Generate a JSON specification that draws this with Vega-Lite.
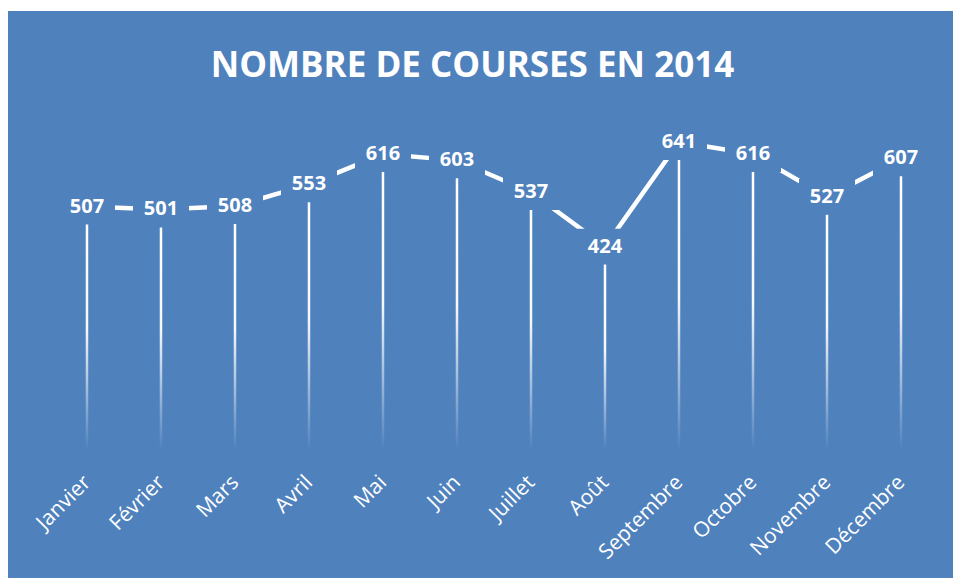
{
  "$schema": "https://vega.github.io/schema/vega-lite/v6.json",
  "width": 945,
  "height": 567,
  "padding": {"left": 8, "top": 11, "right": 0, "bottom": 0},
  "background": "white",
  "title": {
    "text": "NOMBRE DE COURSES EN 2014",
    "color": "white",
    "font": "Open Sans",
    "fontSize": 35,
    "fontWeight": "bold",
    "orient": "top",
    "anchor": "middle",
    "baseline": "alphabetic",
    "offset": -101,
    "dx": -8
  },
  "config": {
    "view": {"fill": "#4F81BD", "stroke": null}
  },
  "data": {
    "values": [
      {"mois": "Janvier", "courses": 507},
      {"mois": "Février", "courses": 501},
      {"mois": "Mars", "courses": 508},
      {"mois": "Avril", "courses": 553},
      {"mois": "Mai", "courses": 616},
      {"mois": "Juin", "courses": 603},
      {"mois": "Juillet", "courses": 537},
      {"mois": "Août", "courses": 424},
      {"mois": "Septembre", "courses": 641},
      {"mois": "Octobre", "courses": 616},
      {"mois": "Novembre", "courses": 527},
      {"mois": "Décembre", "courses": 607}
    ]
  },
  "encoding": {
    "x": {
      "field": "mois",
      "type": "nominal",
      "sort": null,
      "scale": {"type": "point", "padding": 0.885, "align": 0.603},
      "axis": {
        "title": null,
        "domain": false,
        "ticks": false,
        "grid": false,
        "labelColor": "white",
        "labelFont": "Open Sans",
        "labelFontSize": 21,
        "labelAngle": -45,
        "labelAlign": "right",
        "labelBaseline": "middle",
        "labelPadding": 11,
        "offset": -110
      }
    },
    "y": {
      "field": "courses",
      "type": "quantitative",
      "scale": {"domain": [-264, 913], "nice": false, "zero": false},
      "axis": null
    }
  },
  "layer": [
    {
      "mark": {
        "type": "bar",
        "size": 2.5,
        "color": {
          "gradient": "linear",
          "x1": 0, "y1": 0, "x2": 0, "y2": 1,
          "stops": [
            {"offset": 0, "color": "rgba(255,255,255,1)"},
            {"offset": 0.5, "color": "rgba(255,255,255,0.95)"},
            {"offset": 1, "color": "rgba(255,255,255,0)"}
          ]
        }
      },
      "encoding": {"y2": {"datum": 0}}
    },
    {
      "mark": {"type": "line", "color": "white", "strokeWidth": 4.5}
    },
    {
      "mark": {
        "type": "point",
        "shape": "M-1,-0.64H1V0.64H-1Z",
        "filled": true,
        "fill": "#4F81BD",
        "opacity": 1,
        "strokeWidth": 0,
        "size": 3136
      }
    },
    {
      "mark": {
        "type": "text",
        "color": "white",
        "font": "Open Sans",
        "fontSize": 20,
        "fontWeight": "bold",
        "align": "center",
        "baseline": "middle"
      },
      "encoding": {"text": {"field": "courses", "type": "quantitative"}}
    }
  ]
}
